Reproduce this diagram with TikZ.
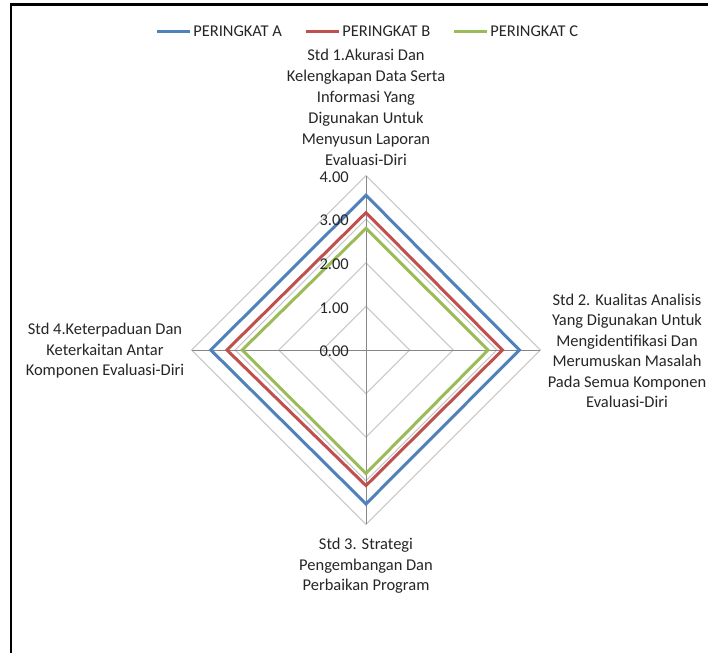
\documentclass[tikz,border=0pt]{standalone}
\usepackage{fontspec}
\setmainfont{Carlito}
\usetikzlibrary{calc}
\definecolor{serA}{HTML}{4F81BD}
\definecolor{serB}{HTML}{C0504D}
\definecolor{serC}{HTML}{9BBB59}
\definecolor{axisgray}{HTML}{878787}
\definecolor{ringgray}{HTML}{C8C8C8}
\definecolor{txt}{HTML}{262626}
\begin{document}
\begin{tikzpicture}[x=0.75pt,y=-0.75pt,
  lbl/.style={font=\fontsize{12.35}{15.4}\selectfont, text=txt, align=center, inner sep=0pt},
  tick/.style={font=\fontsize{12.35}{15.4}\selectfont, text=txt, anchor=east, inner sep=0pt},
  ring/.style={draw=ringgray, line width=0.75pt},
  spoke/.style={draw=axisgray, line width=0.75pt},
  series/.style={line width=2.25pt, line join=miter}]
\useasboundingbox (0,0) rectangle (708,653);
\fill[white] (0,0) rectangle (708,653);
% frame
\draw[line width=1.6pt, black] (11,653) -- (11,4.5) -- (708,4.5);
% center
\coordinate (O) at (366,350);
\def\U{43.6}
% rings
\foreach \k in {1,2,3,4}{
  \draw[ring] ($(O)+(0,-\k*\U)$) -- ($(O)+(\k*\U,0)$) -- ($(O)+(0,\k*\U)$) -- ($(O)+(-\k*\U,0)$) -- cycle;
}
% spokes
\coordinate (Tt) at ($(O)+(0,-4*\U)$);
\coordinate (Tr) at ($(O)+(4*\U,0)$);
\coordinate (Tb) at ($(O)+(0,4*\U)$);
\coordinate (Tl) at ($(O)+(-4*\U,0)$);
\draw[spoke] (O) -- (Tt);
\draw[spoke] (O) -- (Tr);
\draw[spoke] (O) -- (Tb);
\draw[spoke] (O) -- (Tl);
% series
\coordinate (A1) at ($(O)+(0,-3.55*\U)$);
\coordinate (A2) at ($(O)+(3.52*\U,0)$);
\coordinate (A3) at ($(O)+(0,3.53*\U)$);
\coordinate (A4) at ($(O)+(-3.56*\U,0)$);
\coordinate (B1) at ($(O)+(0,-3.15*\U)$);
\coordinate (B2) at ($(O)+(3.13*\U,0)$);
\coordinate (B3) at ($(O)+(0,3.11*\U)$);
\coordinate (B4) at ($(O)+(-3.19*\U,0)$);
\coordinate (C1) at ($(O)+(0,-2.79*\U)$);
\coordinate (C2) at ($(O)+(2.80*\U,0)$);
\coordinate (C3) at ($(O)+(0,2.83*\U)$);
\coordinate (C4) at ($(O)+(-2.84*\U,0)$);
\draw[series, serA] (A1) -- (A2) -- (A3) -- (A4) -- cycle;
\draw[series, serB] (B1) -- (B2) -- (B3) -- (B4) -- cycle;
\draw[series, serC] (C1) -- (C2) -- (C3) -- (C4) -- cycle;
% tick labels
\foreach \k in {0,1,2,3,4}{
  \node[tick] (tk\k) at ($(O)+(-17,1.5-\k*\U)$) {\k.00};
}
% category labels
\node[lbl, anchor=south, font=\fontsize{12.35}{15.75}\selectfont] (cat1) at (366,166) {Std 1.Akurasi Dan\\Kelengkapan Data Serta\\Informasi Yang\\Digunakan Untuk\\Menyusun Laporan\\Evaluasi-Diri};
\node[lbl] (cat2) at (627,351) {Std 2. Kualitas Analisis\\Yang Digunakan Untuk\\Mengidentifikasi Dan\\Merumuskan Masalah\\Pada Semua Komponen\\Evaluasi-Diri};
\node[lbl, anchor=north] (cat3) at (366,538) {Std 3. Strategi\\Pengembangan Dan\\Perbaikan Program};
\node[lbl] (cat4) at (105,351) {Std 4.Keterpaduan Dan\\Keterkaitan Antar\\Komponen Evaluasi-Diri};
% legend
\coordinate (la0) at (157,31); \coordinate (la1) at (190,31);
\coordinate (lb0) at (306,31); \coordinate (lb1) at (339,31);
\coordinate (lc0) at (454,31); \coordinate (lc1) at (487,31);
\draw[series, serA] (la0) -- (la1);
\draw[series, serB] (lb0) -- (lb1);
\draw[series, serC] (lc0) -- (lc1);
\node[lbl, anchor=west] (legA) at (193,31) {PERINGKAT A};
\node[lbl, anchor=west] (legB) at (342,31) {PERINGKAT B};
\node[lbl, anchor=west] (legC) at (490,31) {PERINGKAT C};
\end{tikzpicture}
\end{document}
